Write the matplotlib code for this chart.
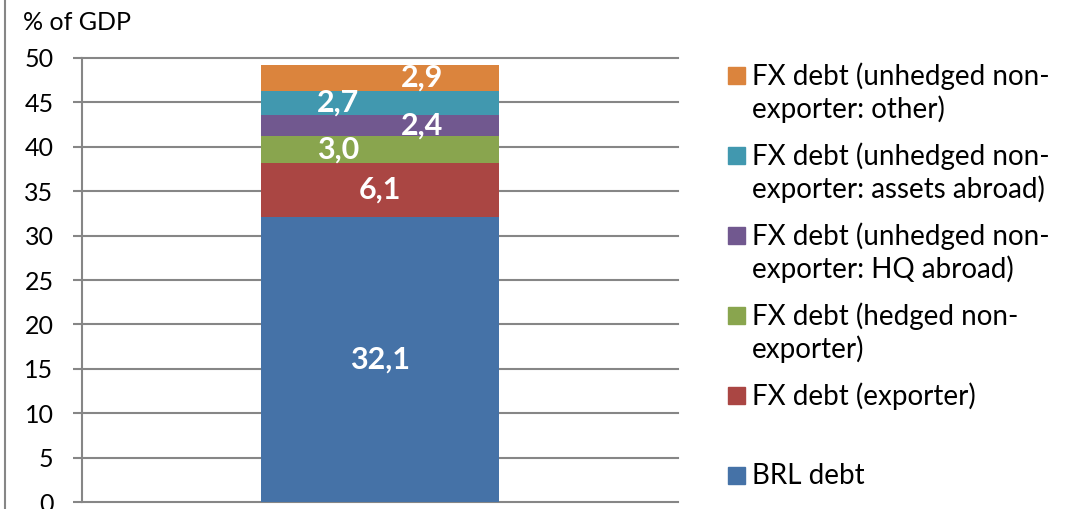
import matplotlib
matplotlib.use("Agg")
import matplotlib.pyplot as plt
from matplotlib.patches import Rectangle
from matplotlib.lines import Line2D

plt.rcParams['font.family'] = ['Lato', 'DejaVu Sans']

# stacked components, bottom to top
series = ["BRL debt",
          "FX debt (exporter)",
          "FX debt (hedged non-\nexporter)",
          "FX debt (unhedged non-\nexporter: HQ abroad)",
          "FX debt (unhedged non-\nexporter: assets abroad)",
          "FX debt (unhedged non-\nexporter: other)"]
values = [32.1, 6.1, 3.0, 2.4, 2.7, 2.9]
colors = ["#4572A7", "#AA4643", "#89A54E", "#71588F", "#4198AF", "#DB843D"]
# small sideways nudge for the thin segments so the labels don't collide
label_shift = [0, 0, -1, 1, -1, 1]
yticks = list(range(0, 51, 5))

W, H = 1066, 509
grey = "#868686"

fig = plt.figure(figsize=(W / 100, H / 100), dpi=100)
ax = fig.add_axes([82 / W, 7 / H, 596 / W, 444 / H])

bottom = 0
for v, c, s in zip(values, colors, label_shift):
    ax.bar(0, v, width=0.4, bottom=bottom, color=c, zorder=3)
    ax.text(s * 0.07, bottom + v / 2, f"{v:.1f}".replace(".", ","),
            ha="center", va="center", color="white", fontsize=22,
            fontweight="bold", zorder=4)
    bottom += v

ax.set_xlim(-0.5, 0.5)
ax.set_ylim(0, 50)
ax.set_xticks([])
ax.set_yticks(yticks)
ax.tick_params(axis="y", direction="out", length=6.5, width=1.5,
               color=grey, pad=14, labelsize=18)
ax.yaxis.grid(True, color=grey, lw=1.5)
ax.set_axisbelow(True)
for gl in ax.get_ygridlines():
    gl.set_clip_on(False)
for side in ["top", "right", "bottom"]:
    ax.spines[side].set_visible(False)
ax.spines["left"].set_color(grey)
ax.spines["left"].set_linewidth(1.5)

fig.text(23 / W, 1 - 22 / H, "% of GDP", ha="left", va="center", fontsize=18)

# chart border on the left
fig.add_artist(Line2D([5 / W, 5 / W], [0, 1], transform=fig.transFigure,
                      color=grey, lw=1.5))

# legend, top entry is the top segment
for i, (name, c) in enumerate(zip(series[::-1], colors[::-1])):
    yc = 75.5 + 80 * i
    fig.add_artist(Rectangle((728 / W, 1 - (yc + 8.5) / H), 17 / W, 17 / H,
                             transform=fig.transFigure, color=c))
    for j, line in enumerate(name.split("\n")):
        fig.text(752 / W, 1 - (yc + 1 + 33 * j) / H, line,
                 ha="left", va="center", fontsize=20)

fig.savefig("out.png", dpi=100)
